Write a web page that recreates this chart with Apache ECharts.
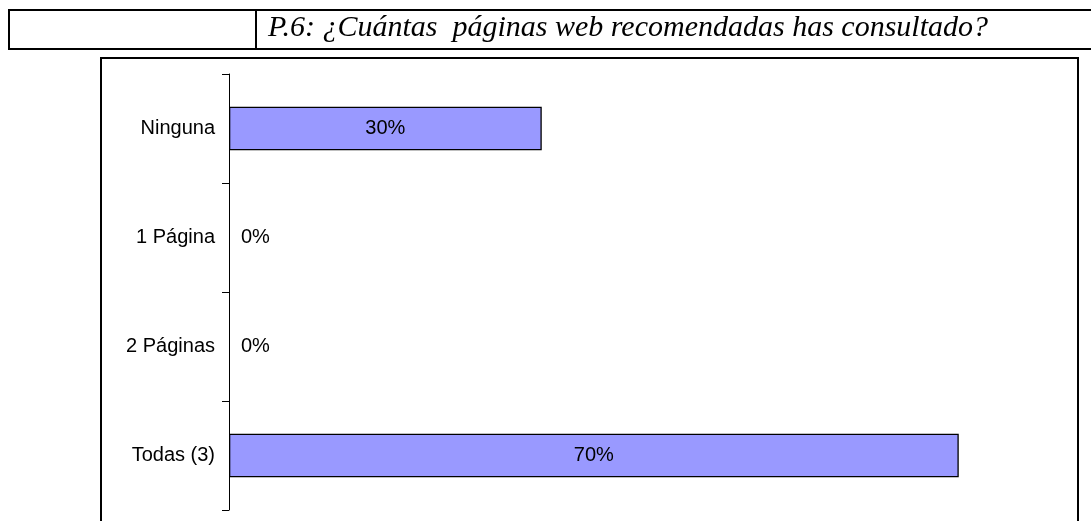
<!DOCTYPE html>
<html>
<head>
<meta charset="utf-8">
<script src="https://cdn.jsdelivr.net/npm/echarts@6/dist/echarts.min.js"></script>
<style>
html,body{margin:0;padding:0;background:#fff;}
#chart{width:1091px;height:521px;}
</style>
</head>
<body>
<div id="chart"></div>
<script>
const titleText = 'P.6: ¿Cuántas  páginas web recomendadas has consultado?';
const categories = ['Ninguna', '1 Página', '2 Páginas', 'Todas (3)'];
const values = [30, 0, 0, 70];
const axisMax = 80;

const chart = echarts.init(document.getElementById('chart'), null, {renderer: 'canvas'});
const data = values.map(v => ({
  value: v,
  itemStyle: v === 0 ? {borderWidth: 0} : {},
  label: v === 0
    ? {position: 'insideLeft', distance: 12}
    : {position: 'inside'}
}));

chart.setOption({
  backgroundColor: '#ffffff',
  animation: false,
  grid: {left: 229, top: 74, height: 436, right: 28},
  xAxis: {
    type: 'value', min: 0, max: axisMax, show: false
  },
  yAxis: {
    type: 'category',
    data: categories,
    inverse: true,
    axisLine: {show: true, lineStyle: {color: '#000', width: 1}},
    axisTick: {show: true, length: 7, lineStyle: {color: '#000', width: 1}},
    axisLabel: {
      color: '#000', fontFamily: 'Liberation Sans, Arial, sans-serif',
      fontSize: 20, margin: 14
    },
    splitLine: {show: false}
  },
  series: [{
    type: 'bar',
    data: data,
    barCategoryGap: '60%',
    itemStyle: {color: '#9999FF', borderColor: '#000', borderWidth: 1.3},
    label: {
      show: true,
      formatter: p => p.value + '%',
      color: '#000',
      fontFamily: 'Liberation Sans, Arial, sans-serif',
      fontSize: 20
    }
  }],
  graphic: [
    {type: 'rect', shape: {x: 9, y: 10, width: 1100, height: 39},
     style: {fill: 'none', stroke: '#000', lineWidth: 2}, silent: true},
    {type: 'line', shape: {x1: 256, y1: 10, x2: 256, y2: 49},
     style: {stroke: '#000', lineWidth: 2}, silent: true},
    {type: 'text', left: 268, top: 13,
     style: {text: titleText, fill: '#000',
       font: 'italic 30px "Liberation Serif", "Times New Roman", serif'}},
    {type: 'rect', shape: {x: 101, y: 58, width: 977, height: 500},
     style: {fill: 'none', stroke: '#000', lineWidth: 2}, silent: true, z: -1}
  ]
});
</script>
</body>
</html>
